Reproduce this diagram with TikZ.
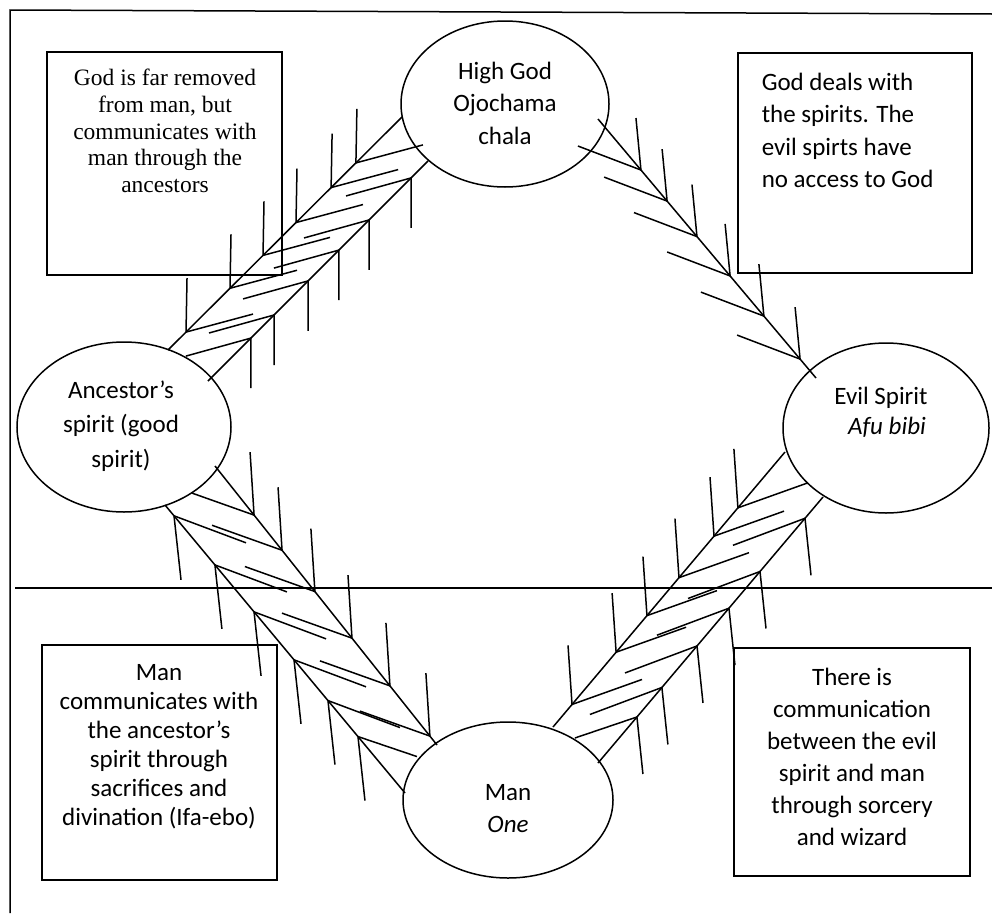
\documentclass[tikz,border=0pt]{standalone}
\usepackage{fontspec}
\setmainfont{Liberation Serif}
\newfontfamily\calfont{Carlito}
\usetikzlibrary{calc,shapes.geometric}
\begin{document}
\begin{tikzpicture}[x=1pt,y=-1pt,line width=1.5pt,
  shp/.style={draw,inner sep=0pt,outer sep=0pt},
  oval/.style={shp,ellipse},
  tms/.style={inner sep=0pt,anchor=base,font=\fontsize{23.5}{27}\selectfont},
  cal/.style={inner sep=0pt,anchor=base,font=\calfont\fontsize{25}{29}\selectfont},
  calw/.style={cal,anchor=base west}]
\useasboundingbox (0,0) rectangle (992,913);
% frame
\draw (10,913) -- (10,10) -- (992,14);
\draw (15,588) -- (992,588);
% boxes
\node[shp,minimum width=235pt,minimum height=223pt] (boxtl) at (164.5,163.5) {};
\node[shp,minimum width=234pt,minimum height=220pt] (boxtr) at (855,163) {};
\node[shp,minimum width=235pt,minimum height=235pt] (boxbl) at (159.5,762.5) {};
\node[shp,minimum width=236pt,minimum height=228pt] (boxbr) at (852,762) {};
% ellipses
\node[oval,minimum width=208pt,minimum height=166pt] (god) at (505,104) {};
\node[oval,minimum width=214pt,minimum height=170pt] (anc) at (124,427) {};
\node[oval,minimum width=206pt,minimum height=170pt] (evil) at (886,428) {};
\node[oval,minimum width=210pt,minimum height=156pt] (man) at (508,800) {};
% texts
\node[tms] (tl1) at (165,85) {God is far removed};
\node[tms] (tl2) at (165,112) {from man, but};
\node[tms] (tl3) at (165,139) {communicates with};
\node[tms] (tl4) at (165,165) {man through the};
\node[tms] (tl5) at (165,192) {ancestors};
\node[calw] (tr1) at (761,90) {God deals with};
\node[calw] (tr2) at (761,122) {the spirits. The};
\node[calw] (tr3) at (761,155) {evil spirts have};
\node[calw] (tr4) at (761,187) {no access to God};
\node[cal] (g1) at (505,79) {High God};
\node[cal] (g2) at (505,111.5) {Ojochama};
\node[cal] (g3) at (505,144) {chala};
\node[cal] (a1) at (121,398) {Ancestor’s};
\node[cal] (a2) at (121,432) {spirit (good};
\node[cal] (a3) at (121,467) {spirit)};
\node[cal] (e1) at (881,404) {Evil Spirit};
\node[cal] (e2) at (887,434) {\itshape Afu bibi};
\node[cal] (m1) at (508,800) {Man};
\node[cal] (m2) at (508,832) {\itshape One};
\node[cal] (bl1) at (159,680) {Man};
\node[cal] (bl2) at (159,709) {communicates with};
\node[cal] (bl3) at (159,738) {the ancestor’s};
\node[cal] (bl4) at (159,767) {spirit through};
\node[cal] (bl5) at (159,796) {sacrifices and};
\node[cal] (bl6) at (159,825) {divination (Ifa-ebo)};
\node[cal] (br1) at (852,685) {There is};
\node[cal] (br2) at (852,717) {communication};
\node[cal] (br3) at (852,749) {between the evil};
\node[cal] (br4) at (852,781) {spirit and man};
\node[cal] (br5) at (852,813) {through sorcery};
\node[cal] (br6) at (852,845) {and wizard};
% band 1: ancestor - god
\coordinate (u1s) at (168,350); \coordinate (u1e) at (402,117);
\coordinate (l1s) at (208,381); \coordinate (l1e) at (428,161);
\draw (u1s) -- (u1e);
\draw (l1s) -- (l1e);
\foreach \t in {.077,.265,.406,.547,.697,.803} {
  \path ($(u1s)!\t!(u1e)$) coordinate (v);
  \draw ($(v)+(1,-54)$) -- (v) -- ++(67,-18);}
\foreach \t in {.195,.3,.455,.595,.732,.923} {
  \path ($(l1s)!\t!(l1e)$) coordinate (v);
  \draw ($(v)+(0,50)$) -- (v) -- ++(-65,18);}
% band 2: god - evil
\coordinate (m2s) at (598,119); \coordinate (m2e) at (816,378);
\draw (m2s) -- (m2e);
\foreach \t in {.197,.317,.454,.606,.761,.927} {
  \path ($(m2s)!\t!(m2e)$) coordinate (v);
  \draw ($(v)+(-5,-52)$) -- (v) -- ++(-63,-24);}
% band 3: ancestor - man
\coordinate (r3s) at (215,466); \coordinate (r3e) at (437,745);
\coordinate (l3s) at (165,505); \coordinate (l3e) at (405,793);
\draw (r3s) -- (r3e);
\draw (l3s) -- (l3e);
\foreach \t/\hx/\hy in {.176/-62/-22,.302/-70/-25,.45/-70/-25,.617/-70/-25,.788/-70/-25,.968/-70/-25} {
  \path ($(r3s)!\t!(r3e)$) coordinate (v);
  \draw ($(v)+(-4,-63)$) -- (v) -- ++(\hx,\hy);}
\foreach \t/\hx/\hy in {.0375/72/27,.208/72/27,.371/72/27,.5375/72/27,.679/72/27,.804/59/20} {
  \path ($(l3s)!\t!(l3e)$) coordinate (v);
  \draw ($(v)+(7,64)$) -- (v) -- ++(\hx,\hy);}
% band 4: man - evil
\coordinate (u4s) at (553,727); \coordinate (u4e) at (785,452);
\coordinate (l4s) at (598,763); \coordinate (l4e) at (823,497);
\draw (u4s) -- (u4e);
\draw (l4s) -- (l4e);
\foreach \t in {.082,.272,.405,.543,.694,.797} {
  \path ($(u4s)!\t!(u4e)$) coordinate (v);
  \draw ($(v)+(-4,-59)$) -- (v) -- ++(70,-25);}
\foreach \t/\hx/\hy in {.173/-62/21,.284/-72/27,.44/-72/27,.582/-72/27,.72/-72/27,.92/-72/27} {
  \path ($(l4s)!\t!(l4e)$) coordinate (v);
  \draw ($(v)+(6,57)$) -- (v) -- ++(\hx,\hy);}
\end{tikzpicture}
\end{document}
